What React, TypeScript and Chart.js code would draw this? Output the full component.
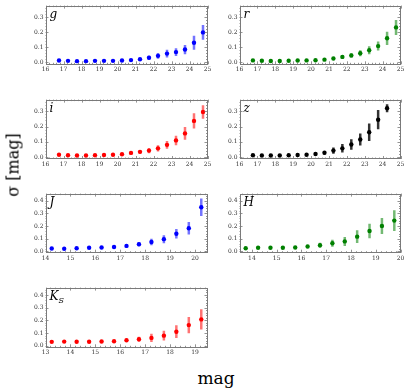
import React, { useEffect, useRef } from 'react';
import { Chart, registerables } from 'chart.js';
Chart.register(...registerables);

// ---------- data ----------
const optMag = [16.75, 17.25, 17.75, 18.25, 18.75, 19.25, 19.75, 20.25, 20.75, 21.25, 21.75, 22.25, 22.75, 23.25, 23.75, 24.25, 24.75];
const zMag = [16.75, 17.25, 17.75, 18.25, 18.75, 19.25, 19.75, 20.25, 20.75, 21.25, 21.75, 22.25, 22.75, 23.25, 23.75, 24.25];
const jMag = [14.25, 14.75, 15.25, 15.75, 16.25, 16.75, 17.25, 17.75, 18.25, 18.75, 19.25, 19.75, 20.25];
const hMag = [13.75, 14.25, 14.75, 15.25, 15.75, 16.25, 16.75, 17.25, 17.75, 18.25, 18.75, 19.25, 19.75];
const ksMag = [13.25, 13.75, 14.25, 14.75, 15.25, 15.75, 16.25, 16.75, 17.25, 17.75, 18.25, 18.75, 19.25];

const gSigma = [0.012, 0.010, 0.008, 0.008, 0.010, 0.010, 0.010, 0.012, 0.015, 0.021, 0.031, 0.043, 0.058, 0.068, 0.085, 0.130, 0.199];
const gErr = [0.002, 0.002, 0.002, 0.002, 0.002, 0.002, 0.003, 0.003, 0.005, 0.008, 0.013, 0.019, 0.025, 0.026, 0.031, 0.046, 0.049];
const rSigma = [0.013, 0.011, 0.009, 0.009, 0.011, 0.012, 0.013, 0.014, 0.018, 0.026, 0.036, 0.046, 0.060, 0.080, 0.108, 0.160, 0.232];
const rErr = [0.002, 0.002, 0.002, 0.002, 0.002, 0.002, 0.003, 0.004, 0.006, 0.010, 0.013, 0.015, 0.020, 0.027, 0.030, 0.044, 0.050];
const iSigma = [0.015, 0.012, 0.010, 0.010, 0.012, 0.013, 0.015, 0.018, 0.027, 0.034, 0.042, 0.057, 0.080, 0.109, 0.155, 0.237, 0.296];
const iErr = [0.002, 0.002, 0.002, 0.002, 0.002, 0.003, 0.003, 0.005, 0.008, 0.012, 0.017, 0.020, 0.026, 0.031, 0.042, 0.050, 0.044];
const zSigma = [0.012, 0.010, 0.010, 0.010, 0.012, 0.013, 0.015, 0.020, 0.028, 0.042, 0.057, 0.082, 0.115, 0.163, 0.245, 0.320];
const zErr = [0.002, 0.002, 0.002, 0.002, 0.002, 0.003, 0.004, 0.006, 0.012, 0.020, 0.028, 0.035, 0.040, 0.057, 0.063, 0.026];
const jSigma = [0.020, 0.018, 0.023, 0.026, 0.028, 0.033, 0.041, 0.054, 0.072, 0.095, 0.138, 0.182, 0.349];
const jErr = [0.003, 0.003, 0.003, 0.004, 0.005, 0.007, 0.010, 0.016, 0.026, 0.032, 0.037, 0.049, 0.070];
const hSigma = [0.023, 0.026, 0.026, 0.026, 0.028, 0.036, 0.046, 0.062, 0.077, 0.115, 0.160, 0.200, 0.243];
const hErr = [0.003, 0.003, 0.003, 0.004, 0.005, 0.010, 0.020, 0.028, 0.036, 0.050, 0.058, 0.064, 0.083];
const ksSigma = [0.030, 0.032, 0.031, 0.031, 0.033, 0.035, 0.043, 0.051, 0.061, 0.079, 0.110, 0.162, 0.207];
const ksErr = [0.004, 0.004, 0.004, 0.004, 0.005, 0.006, 0.012, 0.020, 0.033, 0.038, 0.050, 0.064, 0.080];

const yTicksOpt = [0, 0.1, 0.2, 0.3];
const yTicksNir = [0, 0.1, 0.2, 0.3, 0.4];
const xTicksOpt = [16, 17, 18, 19, 20, 21, 22, 23, 24, 25];
const xTicksJ = [14, 15, 16, 17, 18, 19, 20];
const xTicksH = [14, 15, 16, 17, 18, 19, 20];
const xTicksKs = [13, 14, 15, 16, 17, 18, 19];

// ---------- layout ----------
const COLS = [
  { canvasLeft: 18, canvasWidth: 196, frameLeft: 45.5, frameRight: 207.5 },
  { canvasLeft: 214, canvasWidth: 193, frameLeft: 239.5, frameRight: 400.5 },
];
const ROWS = [
  { canvasTop: 0, frameTop: 2.7, frameBottom: 64.3 },
  { canvasTop: 94, frameTop: 97.3, frameBottom: 159 },
  { canvasTop: 188, frameTop: 191.7, frameBottom: 252.7 },
  { canvasTop: 282, frameTop: 286, frameBottom: 347.3 },
];

type Panel = {
  label: string; sub?: string; mags: number[]; sigma: number[]; err: number[];
  color: string; barColor: string; xMin: number; xMax: number; xTicks: number[];
  yMin: number; yMax: number; yTicks: number[]; row: number; col: number;
};

const PANELS: Panel[] = [
  { label: 'g', mags: optMag, sigma: gSigma, err: gErr, color: '#0000ff', barColor: 'rgba(0,0,255,0.55)', xMin: 16, xMax: 25, xTicks: xTicksOpt, yMin: -0.013, yMax: 0.377, yTicks: yTicksOpt, row: 0, col: 0 },
  { label: 'r', mags: optMag, sigma: rSigma, err: rErr, color: '#008000', barColor: 'rgba(0,128,0,0.55)', xMin: 16, xMax: 25, xTicks: xTicksOpt, yMin: -0.013, yMax: 0.377, yTicks: yTicksOpt, row: 0, col: 1 },
  { label: 'i', mags: optMag, sigma: iSigma, err: iErr, color: '#ff0000', barColor: 'rgba(255,0,0,0.55)', xMin: 16, xMax: 25, xTicks: xTicksOpt, yMin: -0.013, yMax: 0.377, yTicks: yTicksOpt, row: 1, col: 0 },
  { label: 'z', mags: zMag, sigma: zSigma, err: zErr, color: '#000000', barColor: 'rgba(0,0,0,0.8)', xMin: 16, xMax: 25, xTicks: xTicksOpt, yMin: -0.013, yMax: 0.377, yTicks: yTicksOpt, row: 1, col: 1 },
  { label: 'J', mags: jMag, sigma: jSigma, err: jErr, color: '#0000ff', barColor: 'rgba(0,0,255,0.55)', xMin: 14, xMax: 20.5, xTicks: xTicksJ, yMin: -0.013, yMax: 0.458, yTicks: yTicksNir, row: 2, col: 0 },
  { label: 'H', mags: hMag, sigma: hSigma, err: hErr, color: '#008000', barColor: 'rgba(0,128,0,0.55)', xMin: 13.5, xMax: 20, xTicks: xTicksH, yMin: -0.013, yMax: 0.458, yTicks: yTicksNir, row: 2, col: 1 },
  { label: 'K', sub: 'S', mags: ksMag, sigma: ksSigma, err: ksErr, color: '#ff0000', barColor: 'rgba(255,0,0,0.55)', xMin: 13, xMax: 19.5, xTicks: xTicksKs, yMin: -0.013, yMax: 0.458, yTicks: yTicksNir, row: 3, col: 0 },
];

const TICK_FONT = { family: '"DejaVu Serif", serif', size: 6 };
const FRAME_COLOR = '#7a7a7a';

function PanelChart({ p }: { p: Panel }) {
  const ref = useRef<HTMLCanvasElement | null>(null);
  const col = COLS[p.col];
  const row = ROWS[p.row];
  const canvasHeight = Math.round(row.frameBottom + 12 - row.canvasTop);
  const yAxisWidth = col.frameLeft - col.canvasLeft;
  const padRight = col.canvasLeft + col.canvasWidth - col.frameRight;
  const padTop = row.frameTop - row.canvasTop;
  const xAxisHeight = row.canvasTop + canvasHeight - row.frameBottom;

  useEffect(() => {
    if (!ref.current) return;
    const plugin = {
      id: 'panelDecor',
      beforeDatasetsDraw(chart: any) {
        const ctx = chart.ctx;
        const xs = chart.scales.x;
        const ys = chart.scales.y;
        const a = chart.chartArea;
        ctx.save();
        ctx.beginPath();
        ctx.rect(a.left, a.top, a.right - a.left, a.bottom - a.top);
        ctx.clip();
        ctx.strokeStyle = p.barColor;
        ctx.lineWidth = 2.5;
        p.mags.forEach((m, i) => {
          const x = xs.getPixelForValue(m);
          const y1 = ys.getPixelForValue(p.sigma[i] - p.err[i]);
          const y2 = ys.getPixelForValue(p.sigma[i] + p.err[i]);
          ctx.beginPath();
          ctx.moveTo(x, y1);
          ctx.lineTo(x, y2);
          ctx.stroke();
        });
        ctx.restore();
      },
      afterDatasetsDraw(chart: any) {
        const ctx = chart.ctx;
        const xs = chart.scales.x;
        const ys = chart.scales.y;
        const a = chart.chartArea;
        ctx.save();
        ctx.strokeStyle = FRAME_COLOR;
        ctx.lineWidth = 1;
        ctx.strokeRect(Math.round(a.left) + 0.5, Math.round(a.top) + 0.5, Math.round(a.right - a.left) - 1, Math.round(a.bottom - a.top) - 1);
        ctx.lineWidth = 0.8;
        // x ticks (major every 1, minor every 0.2)
        for (let k = Math.ceil(p.xMin * 5); k <= Math.floor(p.xMax * 5); k++) {
          const v = k / 5;
          const x = Math.round(xs.getPixelForValue(v)) + 0.5;
          const len = k % 5 === 0 ? 3 : 1.5;
          ctx.beginPath();
          ctx.moveTo(x, a.bottom); ctx.lineTo(x, a.bottom - len);
          ctx.moveTo(x, a.top); ctx.lineTo(x, a.top + len);
          ctx.stroke();
        }
        // y ticks (major every 0.1, minor every 0.02)
        for (let k = Math.ceil(p.yMin * 50); k <= Math.floor(p.yMax * 50); k++) {
          const v = k / 50;
          const y = Math.round(ys.getPixelForValue(v)) + 0.5;
          const len = k % 5 === 0 ? 3 : 1.5;
          ctx.beginPath();
          ctx.moveTo(a.left, y); ctx.lineTo(a.left + len, y);
          ctx.moveTo(a.right, y); ctx.lineTo(a.right - len, y);
          ctx.stroke();
        }
        // panel label
        ctx.fillStyle = '#000';
        ctx.font = 'italic 12px "DejaVu Serif", serif';
        ctx.textBaseline = 'alphabetic';
        ctx.textAlign = 'left';
        const lx = a.left + 4;
        const ly = a.top + 12;
        ctx.fillText(p.label, lx, ly);
        if (p.sub) {
          const w = ctx.measureText(p.label).width;
          ctx.font = 'italic 8px "DejaVu Serif", serif';
          ctx.fillText(p.sub, lx + w, ly + 3);
        }
        ctx.restore();
      },
    };

    const chart = new Chart(ref.current, {
      type: 'scatter',
      data: {
        datasets: [{
          data: p.mags.map((m, i) => ({ x: m, y: p.sigma[i] })),
          backgroundColor: p.color,
          borderColor: p.color,
          borderWidth: 0,
          pointRadius: 2.2,
          showLine: false,
        }],
      },
      options: {
        animation: false,
        responsive: false,
        devicePixelRatio: 1,
        layout: { padding: { top: padTop, right: padRight, left: 0, bottom: 0 } },
        plugins: { legend: { display: false }, tooltip: { enabled: false } },
        scales: {
          x: {
            type: 'linear', min: p.xMin, max: p.xMax,
            grid: { display: false, drawTicks: false },
            border: { display: false },
            ticks: { font: TICK_FONT, color: '#333', padding: 2, maxRotation: 0, autoSkip: false, callback: (v: any) => String(v) },
            afterBuildTicks: (s: any) => { s.ticks = p.xTicks.map((v) => ({ value: v })); },
            afterFit: (s: any) => { s.height = xAxisHeight; },
          },
          y: {
            type: 'linear', min: p.yMin, max: p.yMax,
            grid: { display: false, drawTicks: false },
            border: { display: false },
            ticks: { font: TICK_FONT, color: '#333', padding: 2, autoSkip: false, callback: (v: any) => Number(v).toFixed(1) },
            afterBuildTicks: (s: any) => { s.ticks = p.yTicks.map((v) => ({ value: v })); },
            afterFit: (s: any) => { s.width = yAxisWidth; },
          },
        },
      },
      plugins: [plugin],
    } as any);
    return () => chart.destroy();
  }, []);

  return (
    <canvas
      ref={ref}
      width={col.canvasWidth}
      height={canvasHeight}
      style={{ position: 'absolute', left: col.canvasLeft, top: row.canvasTop, width: col.canvasWidth, height: canvasHeight }}
    />
  );
}

export default function App() {
  return (
    <div style={{ position: 'absolute', left: 0, top: 0, width: 407, height: 389, background: '#fff', overflow: 'hidden' }}>
      {PANELS.map((p) => (
        <PanelChart key={p.label + (p.sub || '')} p={p} />
      ))}
      <div style={{ position: 'absolute', left: 13, top: 165, transform: 'translate(-50%, -50%) rotate(-90deg)', fontFamily: '"DejaVu Serif", serif', fontSize: 16, whiteSpace: 'nowrap', color: '#000' }}>
        σ [mag]
      </div>
      <div style={{ position: 'absolute', left: 216, top: 378, transform: 'translate(-50%, -50%)', fontFamily: '"DejaVu Serif", serif', fontSize: 17, whiteSpace: 'nowrap', color: '#000' }}>
        mag
      </div>
    </div>
  );
}
